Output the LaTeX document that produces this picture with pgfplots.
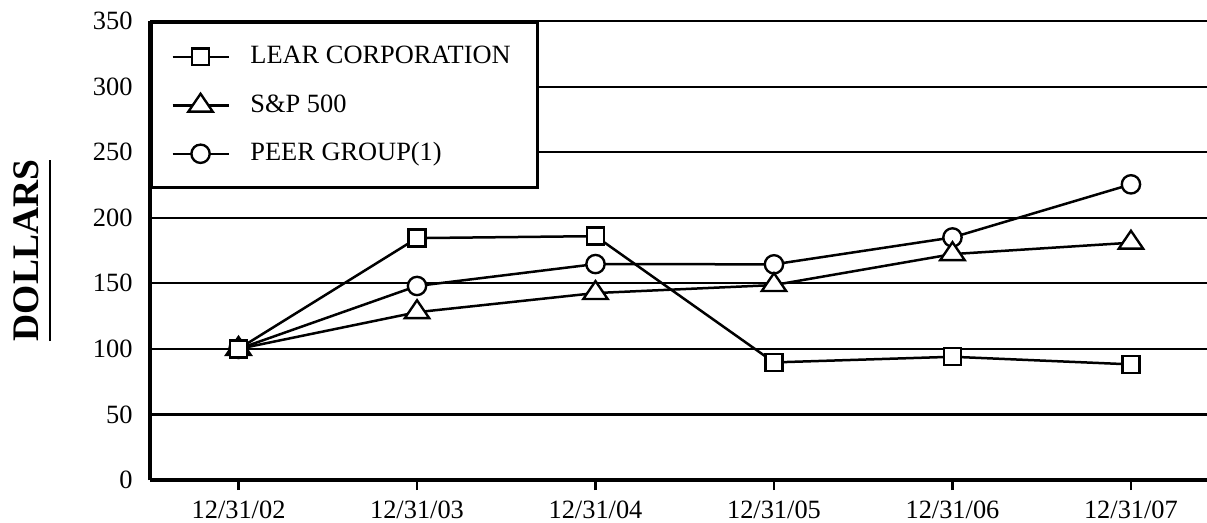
\documentclass[border=0pt]{standalone}
\usepackage{fontspec}
\setmainfont{Liberation Serif}
\usepackage{pgfplots}
\pgfplotsset{compat=1.18}
\begin{document}
\fontsize{9.5}{11}\selectfont
\begin{tikzpicture}
\begin{axis}[
  scale only axis, width=380.5pt, height=165.2pt,
  xmin=-0.496, xmax=5.426, ymin=0, ymax=350,
  axis x line=bottom, axis y line=left,
  axis line style={-, line width=1.2pt, black},
  xtick={0,1,2,3,4,5},
  xticklabels={12/31/02,12/31/03,12/31/04,12/31/05,12/31/06,12/31/07},
  ytick={0,50,100,150,200,250,300,350},
  ymajorgrids, grid style={black, line width=0.8pt},
  tick align=outside, major tick length=3.6pt,
  xtick style={black, line width=0.9pt},
  ytick style={draw=none},
  tick label style={font=\fontsize{9.5}{11}\selectfont},
  /pgf/number format/assume math mode=true,
  yticklabel style={inner xsep=0pt, xshift=-2.5pt},
  xticklabel style={yshift=-0.4pt},
  ylabel={\vtop{\hbox{DOLLARS}\kern3.4pt\hrule height 0.7pt}},
  ylabel style={at={(axis description cs:-0.1051,0.5)}, anchor=base, rotate=0,
    font=\fontsize{13.5}{15}\selectfont\bfseries, inner sep=0pt},
  every axis plot/.append style={black, line width=0.9pt},
  reverse legend,
  legend style={at={(0,1)}, anchor=north west, draw=black, line width=1.1pt,
    fill=white, inner xsep=7.1pt, inner ysep=8.3pt, row sep=9.3pt,
    font=\fontsize{9.5}{11}\selectfont,
    nodes={inner sep=0pt, text height=6.5pt, text depth=1.5pt},
    /tikz/every odd column/.append style={column sep=7.4pt}},
  legend cell align=left,
  legend image code/.code={\draw[mark repeat=2,mark phase=2,#1] plot coordinates {(0pt,0pt)(10.1pt,0pt)(20.2pt,0pt)};},
]
\coordinate (sw) at (rel axis cs:0,0);
\addplot[mark=*, mark size=3.3pt, mark options={fill=white, solid, line width=0.85pt}]
  coordinates {(0,100)(1,148)(2,164.7)(3,164.5)(4,185)(5,225.5)};
\addlegendentry{PEER GROUP(1)}
\addplot[mark=triangle*, mark size=4.3pt, mark options={fill=white, solid, line width=0.85pt, xscale=1.18}]
  coordinates {(0,100)(1,128)(2,142.6)(3,148.7)(4,172.3)(5,181)};
\addlegendentry{S\&P 500}
\addplot[mark=square*, mark size=3.05pt, mark options={fill=white, solid, line width=0.85pt}]
  coordinates {(0,100)(1,184.5)(2,186)(3,89.7)(4,94)(5,88.2)};
\addlegendentry{LEAR CORPORATION\rule{2.6pt}{0pt}}
\end{axis}
\pgfresetboundingbox
\path[use as bounding box] ([shift={(-54pt,-15.12pt)}]sw) rectangle ([shift={(380.5pt,172.8pt)}]sw);
\end{tikzpicture}
\end{document}
